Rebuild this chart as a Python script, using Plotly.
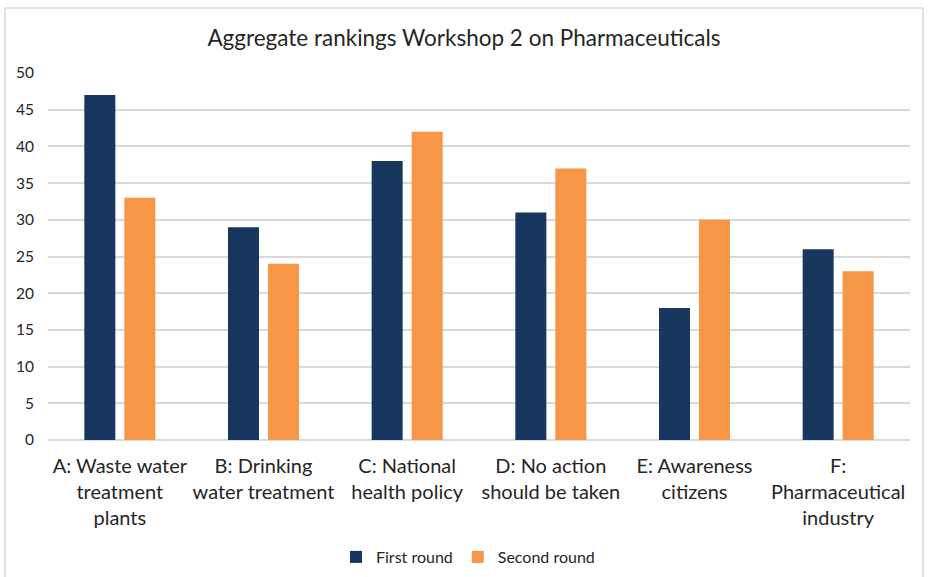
import plotly.graph_objects as go

categories = ["A: Waste water<br>treatment<br>plants", "B: Drinking<br>water treatment",
              "C: National<br>health policy", "D: No action<br>should be taken",
              "E: Awareness<br>citizens", "F:<br>Pharmaceutical<br>industry"]
first_round = [47, 29, 38, 31, 18, 26]
second_round = [33, 24, 42, 37, 30, 23]
y_ticks = [0, 5, 10, 15, 20, 25, 30, 35, 40, 45, 50]

FONT = "Lato, 'Open Sans', sans-serif"

fig = go.Figure()
fig.add_trace(go.Bar(x=categories, y=first_round, name="First round",
                     marker=dict(color="#17375E", line=dict(width=0))))
fig.add_trace(go.Bar(x=categories, y=second_round, name="Second round",
                     marker=dict(color="#F79646", line=dict(width=0))))

W, H = 928, 577
ml, mr, mt, mb = 48, 18, 73, 137
pw, ph = W - ml - mr, H - mt - mb

def px_x(x):
    return (x - ml) / pw

def px_y(y):
    return (H - mb - y) / ph

fig.update_layout(
    width=W, height=H,
    margin=dict(l=ml, r=mr, t=mt, b=mb, autoexpand=False),
    paper_bgcolor="white", plot_bgcolor="white",
    barmode="group", bargap=0.443, bargroupgap=0.225,
    font=dict(family=FONT, color="#404040"),
    title=dict(text="Aggregate rankings Workshop 2 on Pharmaceuticals",
               x=0.5, xanchor="center", y=1 - 38 / H, yanchor="middle",
               font=dict(family=FONT, size=22.5, color="#262626")),
    xaxis=dict(showgrid=False, showline=False, ticks="", automargin=False,
               ticklabelstandoff=12,
               tickfont=dict(family=FONT, size=20, color="#262626")),
    yaxis=dict(range=[0, 50], tickvals=y_ticks, showgrid=True, automargin=False,
               gridcolor="#D9D9D9", gridwidth=1.5, zeroline=True,
               zerolinecolor="#D9D9D9", zerolinewidth=1.5, ticks="",
               ticklabelstandoff=13,
               tickfont=dict(family=FONT, size=15.5, color="#262626")),
    legend=dict(orientation="h", x=px_x(468), xanchor="center", y=px_y(557),
                yanchor="middle", font=dict(family=FONT, size=16, color="#262626"),
                itemwidth=30, traceorder="normal"),
    showlegend=True,
)

fig.add_shape(type="rect", xref="paper", yref="paper",
              x0=px_x(5), x1=px_x(923), y0=px_y(590), y1=px_y(8),
              line=dict(color="#D9D9D9", width=1.5), fillcolor="rgba(0,0,0,0)",
              layer="below")

fig.write_html("out.html", config={"displayModeBar": False},
               post_script="document.body.style.margin='0';")
